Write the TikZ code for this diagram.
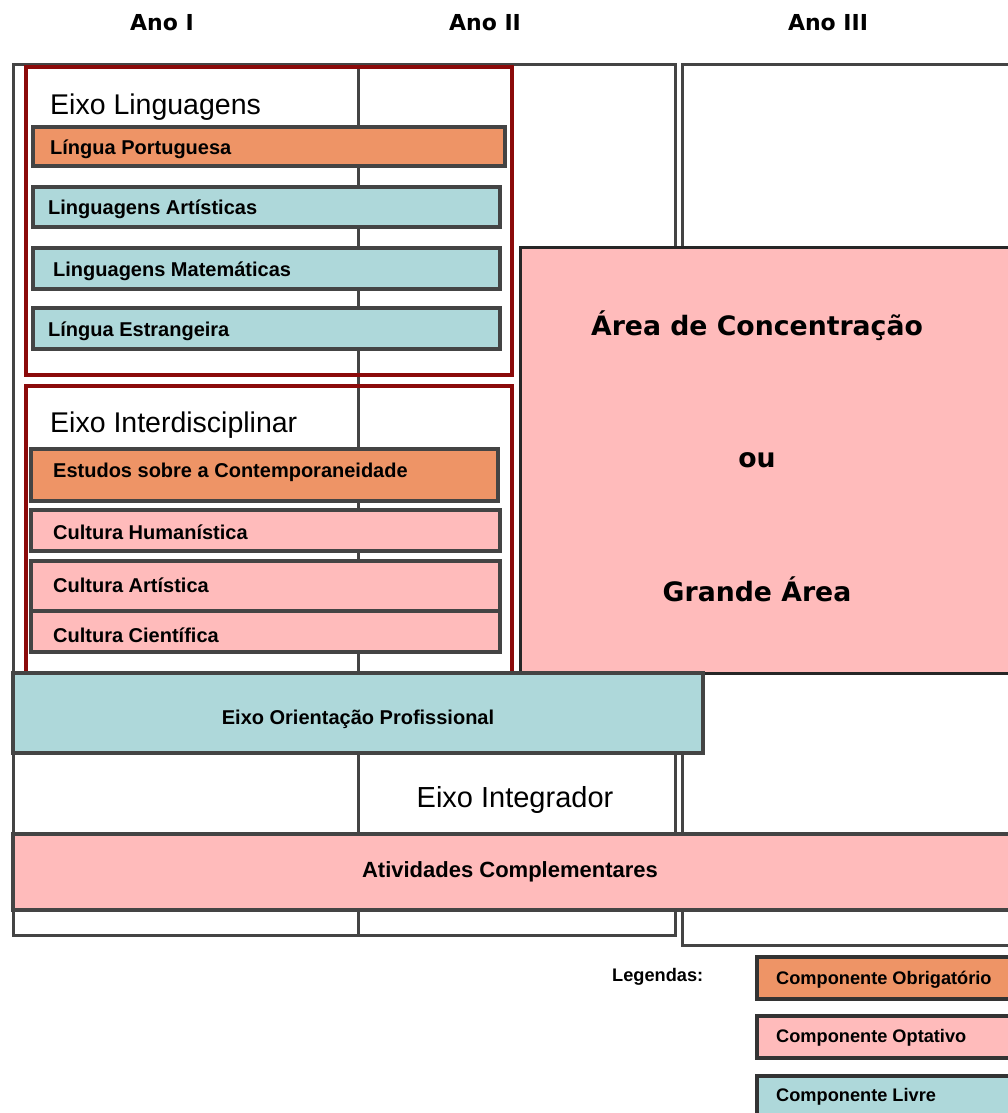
\documentclass[tikz,border=0pt]{standalone}
\usepackage{fontspec}
\setmainfont{Liberation Sans}
\newfontfamily\verd{DejaVu Sans}
\usepackage{xcolor}
\definecolor{cinza}{HTML}{444444}
\definecolor{vinho}{HTML}{8B0A0A}
\definecolor{laranja}{HTML}{EE9466}
\definecolor{rosa}{HTML}{FFBBBB}
\definecolor{azul}{HTML}{AED8DA}
\tikzset{
	moldura/.style={draw=cinza, line width=3pt},
	eixobox/.style={draw=vinho, line width=4pt},
	comp/.style={draw=cinza, line width=3.5pt},
	rotulo/.style={font=\bfseries\fontsize{20}{20}\selectfont, anchor=west, inner sep=0pt, yshift=-2pt},
	titulo/.style={font=\fontsize{28.5}{28.5}\selectfont, anchor=west, inner sep=0pt, yshift=-3pt},
	ano/.style={font=\verd\bfseries\fontsize{22}{22}\selectfont, inner sep=0pt},
	area/.style={font=\verd\bfseries\fontsize{26.7}{26.7}\selectfont, inner sep=0pt},
	legenda/.style={font=\bfseries\fontsize{18.2}{18.2}\selectfont, anchor=west, inner sep=0pt, yshift=-1pt}
}

\begin{document}
\begin{tikzpicture}[x=1pt, y=-1pt]
			\useasboundingbox (0,0) rectangle (1007,1113);
			% colunas
			\node[ano] (ano1) at (162,23) {Ano I};
			\node[ano] (ano2) at (485,23) {Ano II};
			\node[ano] (ano3) at (828,23) {Ano III};
			\draw[moldura] (13,65) rectangle (675,935);
			\draw[moldura] (358,65) -- (358,935);
			\draw[moldura] (682,65) rectangle (1015,945);
			% eixo linguagens
			\draw[eixobox] (26,67) rectangle (512,375);
			\node[titulo] (eling) at (50,104) {Eixo Linguagens};
			\draw[comp, fill=laranja] (33,127) rectangle (505,166);
			\node[rotulo] (lp) at (50,147) {Língua Portuguesa};
			\draw[comp, fill=azul] (33,187) rectangle (500,227);
			\node[rotulo] (lart) at (48,207) {Linguagens Artísticas};
			\draw[comp, fill=azul] (33,248) rectangle (500,289);
			\node[rotulo] (lmat) at (53,269) {Linguagens Matemáticas};
			\draw[comp, fill=azul] (33,308) rectangle (500,349);
			\node[rotulo] (lest) at (48,329) {Língua Estrangeira};
			% eixo interdisciplinar
			\draw[eixobox] (26,386) rectangle (512,690);
			\node[titulo] (einter) at (50,422) {Eixo Interdisciplinar};
			\draw[comp, fill=laranja] (31,449) rectangle (498,501);
			\node[rotulo] (esc) at (53,470) {Estudos sobre a Contemporaneidade};
			\draw[comp, fill=rosa] (31,510) rectangle (500,551);
			\node[rotulo] (chum) at (53,530) {Cultura Humanística};
			\draw[comp, fill=rosa] (31,561) rectangle (500,611);
			\node[rotulo] (cart) at (53,583) {Cultura Artística};
			\draw[comp, fill=rosa] (31,611) rectangle (500,652);
			\node[rotulo] (ccie) at (53,633) {Cultura Científica};
			% area de concentracao
			\draw[line width=3pt, draw=black!85, fill=rosa] (520,247) rectangle (1010,673);
			\node[area] (acon) at (757,326) {Área de Concentração};
			\node[area] (ou) at (757,460) {ou};
			\node[area] (garea) at (757,589) {Grande Área};
			% faixas
			\draw[comp, fill=azul] (13,673) rectangle (703,753);
			\node[rotulo, anchor=center] (eop) at (358,717) {Eixo Orientação Profissional};
			\node[titulo, anchor=center, font=\fontsize{29}{29}\selectfont] (eint) at (515,797) {Eixo Integrador};
			\draw[comp, fill=rosa] (13,834) rectangle (1012,910);
			\node[rotulo, anchor=center, font=\bfseries\fontsize{22}{22}\selectfont] (ativ) at (510,870) {Atividades Complementares};
			% legendas
			\node[legenda] (leg) at (612,976) {Legendas:};
			\draw[comp, draw=black!80, line width=4pt, fill=laranja] (757,957) rectangle (1012,999);
			\node[legenda] (cobr) at (776,979) {Componente Obrigatório};
			\draw[comp, draw=black!80, line width=4pt, fill=rosa] (757,1016) rectangle (1012,1058);
			\node[legenda] (copt) at (776,1037) {Componente Optativo};
			\draw[comp, draw=black!80, line width=4pt, fill=azul] (757,1076) rectangle (1012,1120);
			\node[legenda] (cliv) at (776,1096) {Componente Livre};
		\end{tikzpicture}
\end{document}
